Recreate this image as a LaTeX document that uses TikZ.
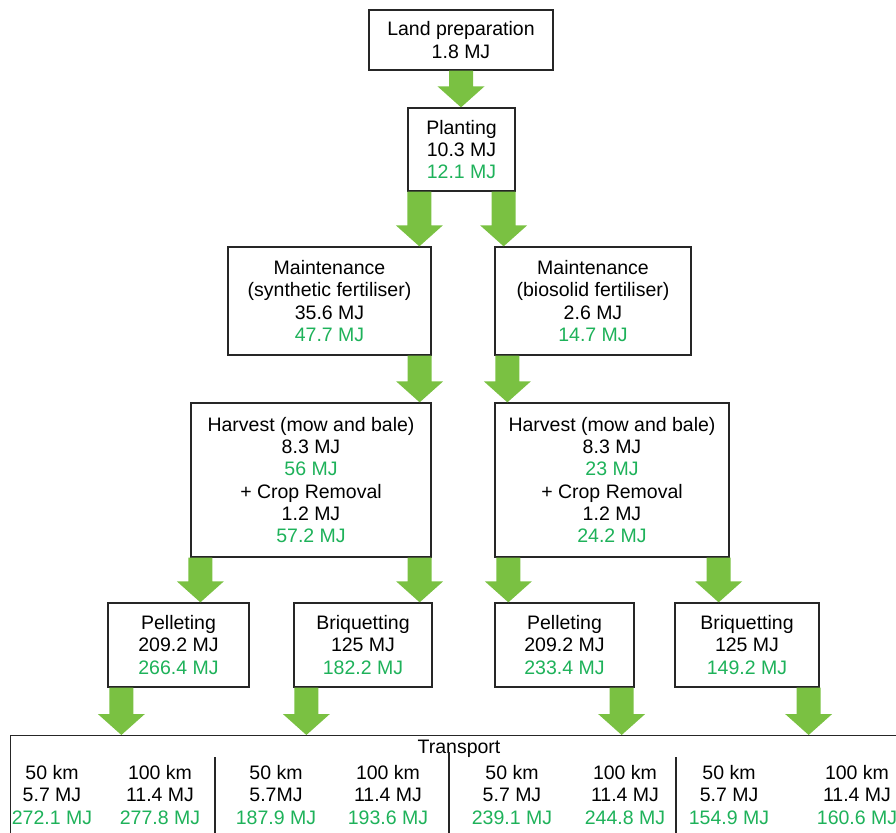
\documentclass[tikz,border=0pt]{standalone}
\usepackage{fontspec}
\setmainfont{Liberation Sans}
\usetikzlibrary{calc}
\definecolor{agreen}{RGB}{122,193,66}
\definecolor{tgreen}{RGB}{30,178,90}
\newcommand\gv[1]{\textcolor{tgreen}{#1}}
\newcommand\garrow[2]{\fill[agreen] let \p1=(#1), \p2=(#2) in
  (\x1-12pt,\y1) -- (\x1+12pt,\y1) -- (\x1+12pt,\y2+21pt) -- (\x1+23.5pt,\y2+21pt)
  -- (\x1,\y2) -- (\x1-23.5pt,\y2+21pt) -- (\x1-12pt,\y2+21pt) -- cycle;}
\tikzset{
  txt/.style={inner sep=0pt, align=center, font=\fontsize{19.5}{22.3}\selectfont},
  box/.style={txt, draw=black!85, line width=1.3pt, fill=white, rectangle},
  divline/.style={draw=black!85, line width=1.3pt}
}
\begin{document}
\begin{tikzpicture}[x=1pt,y=-1pt]
\useasboundingbox (0,0) rectangle (896,832);
\clip (0,0) rectangle (896,832);
% boxes
\node[box, minimum width=184pt, minimum height=60pt] (land) at (461,40) {Land preparation\\1.8 MJ};
\node[box, minimum width=107pt, minimum height=83pt] (plant) at (461.5,149.5) {Planting\\10.3 MJ\\\gv{12.1 MJ}};
\node[box, minimum width=203pt, minimum height=108pt] (mainL) at (329.5,301) {Maintenance\\(synthetic fertiliser)\\35.6 MJ\\\gv{47.7 MJ}};
\node[box, minimum width=196pt, minimum height=108pt] (mainR) at (593,301) {Maintenance\\(biosolid fertiliser)\\2.6 MJ\\\gv{14.7 MJ}};
\node[box, minimum width=240pt, minimum height=154pt] (harvL) at (311,480) {Harvest (mow and bale)\\8.3 MJ\\\gv{56 MJ}\\+ Crop Removal\\1.2 MJ\\\gv{57.2 MJ}};
\node[box, minimum width=234pt, minimum height=154pt] (harvR) at (612,480) {Harvest (mow and bale)\\8.3 MJ\\\gv{23 MJ}\\+ Crop Removal\\1.2 MJ\\\gv{24.2 MJ}};
\node[box, minimum width=141pt, minimum height=84pt] (pelL) at (178.5,645) {Pelleting\\209.2 MJ\\\gv{266.4 MJ}};
\node[box, minimum width=138pt, minimum height=84pt] (briL) at (363,645) {Briquetting\\125 MJ\\\gv{182.2 MJ}};
\node[box, minimum width=139pt, minimum height=84pt] (pelR) at (564.5,645) {Pelleting\\209.2 MJ\\\gv{233.4 MJ}};
\node[box, minimum width=144pt, minimum height=84pt] (briR) at (747,645) {Briquetting\\125 MJ\\\gv{149.2 MJ}};
\node[box, anchor=north west, minimum width=900pt, minimum height=120pt] (trans) at (10,735) {};
\node[txt] (transT) at (459,749) {Transport};
\draw[divline] (215,757) -- (215,845);
\draw[divline] (449,752) -- (449,845);
\draw[divline] (676,757) -- (676,845);
\node[txt] (t1a) at (52,795) {50 km\\5.7 MJ\\\gv{272.1 MJ}};
\node[txt] (t1b) at (160,795) {100 km\\11.4 MJ\\\gv{277.8 MJ}};
\node[txt] (t2a) at (276,795) {50 km\\5.7MJ\\\gv{187.9 MJ}};
\node[txt] (t2b) at (388,795) {100 km\\11.4 MJ\\\gv{193.6 MJ}};
\node[txt] (t3a) at (512,795) {50 km\\5.7 MJ\\\gv{239.1 MJ}};
\node[txt] (t3b) at (625,795) {100 km\\11.4 MJ\\\gv{244.8 MJ}};
\node[txt] (t4a) at (729,795) {50 km\\5.7 MJ\\\gv{154.9 MJ}};
\node[txt] (t4b) at (857,795) {100 km\\11.4 MJ\\\gv{160.6 MJ}};
% arrows
\garrow{land.south}{plant.north}
\garrow{$(plant.south west)+(12,0)$}{mainL.north}
\garrow{$(plant.south east)+(-12,0)$}{mainR.north}
\garrow{$(mainL.south east)+(-12,0)$}{harvL.north}
\garrow{$(mainR.south west)+(13,0)$}{harvR.north}
\garrow{$(harvL.south west)+(10,0)$}{pelL.north}
\garrow{$(harvL.south east)+(-12,0)$}{briL.north}
\garrow{$(harvR.south west)+(14,0)$}{pelR.north}
\garrow{$(harvR.south east)+(-11,0)$}{briR.north}
\garrow{$(pelL.south west)+(14,0)$}{trans.north}
\garrow{$(briL.south west)+(13,0)$}{trans.north}
\garrow{$(pelR.south east)+(-13,0)$}{trans.north}
\garrow{$(briR.south east)+(-11,0)$}{trans.north}
\end{tikzpicture}
\end{document}
